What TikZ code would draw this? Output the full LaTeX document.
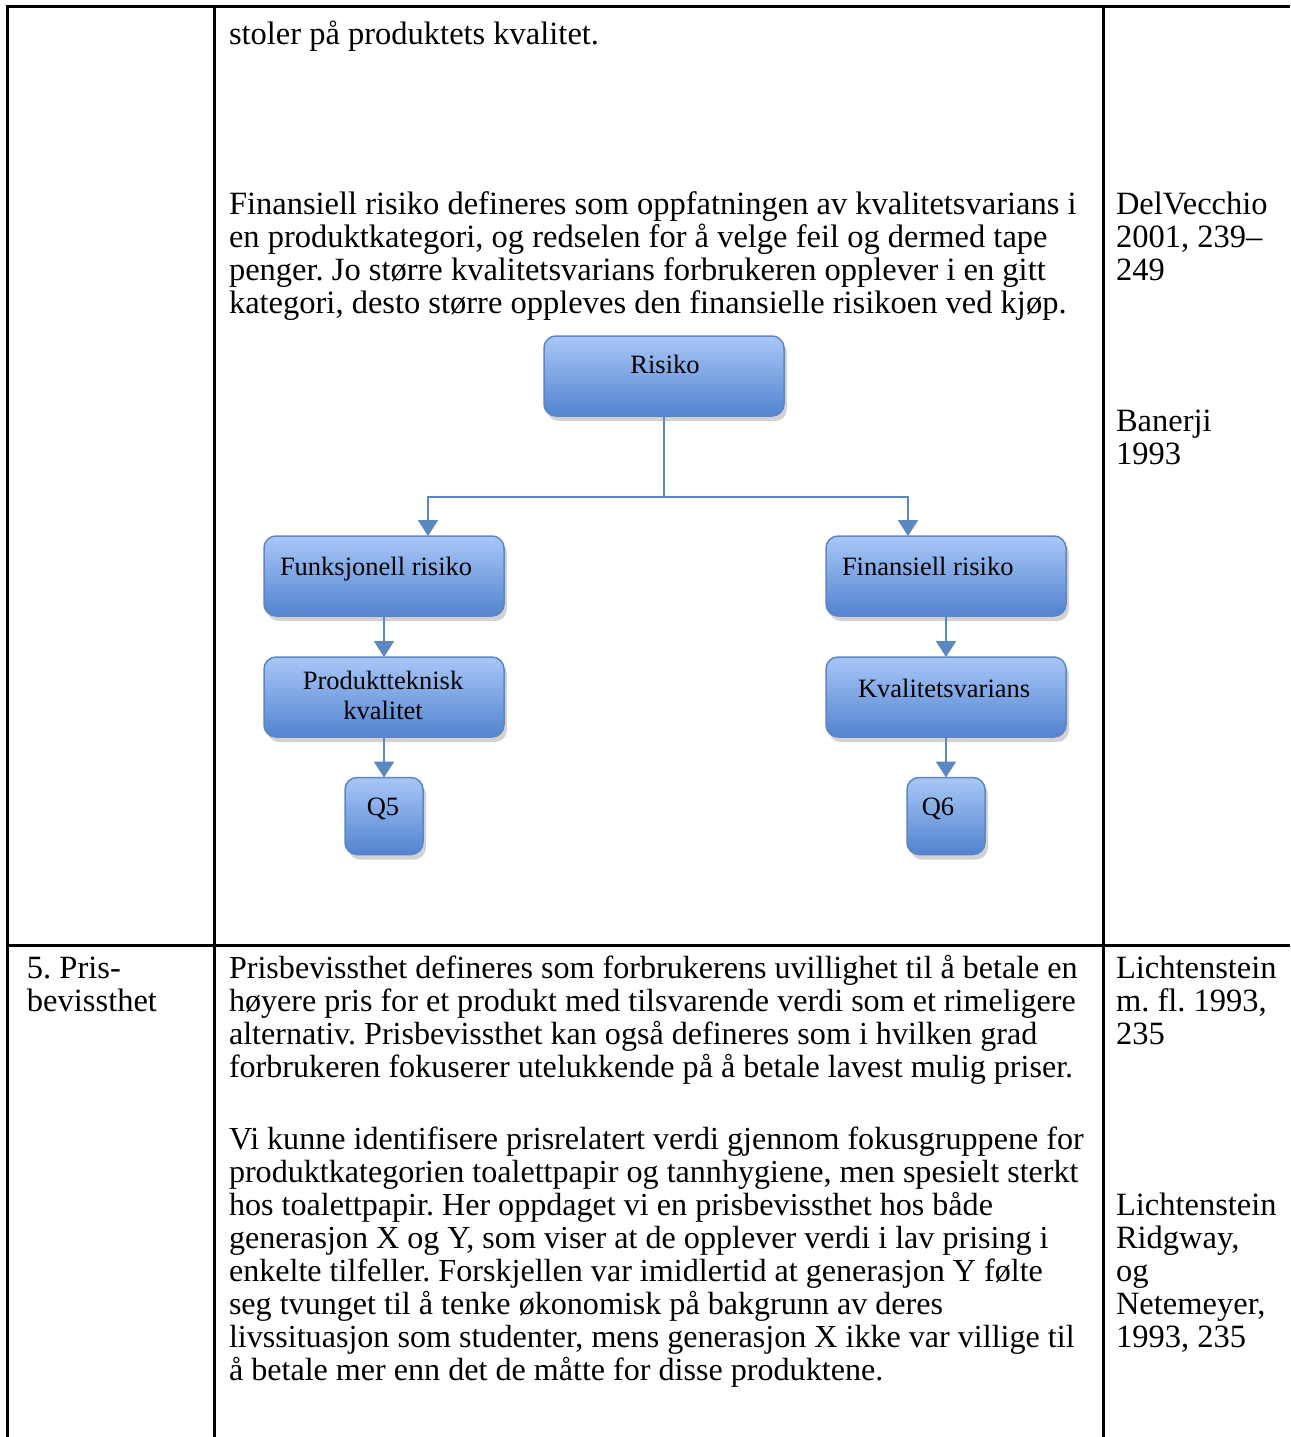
\documentclass[tikz,border=0pt]{standalone}
\usepackage{fontspec}
\setmainfont{Liberation Serif}
\usetikzlibrary{arrows.meta,shadows}
\definecolor{boxtop}{HTML}{A8C7F7}
\definecolor{boxmid}{HTML}{8CB0EC}
\definecolor{boxbot}{HTML}{5283CF}
\definecolor{boxline}{HTML}{5E86C4}
\definecolor{conn}{HTML}{5B87C2}
\tikzset{
  txt/.style={anchor=base west, inner sep=0pt, outer sep=0pt, font=\fontsize{32.5}{33}\selectfont\frenchspacing},
  txtb/.style={txt, font=\fontsize{32.1}{33}\selectfont\frenchspacing},
  btxt/.style={anchor=base, inner sep=0pt, outer sep=0pt, font=\fontsize{26.5}{30}\selectfont},
  btxtw/.style={btxt, anchor=base west},
  rule/.style={line width=3pt, black},
  fbox/.style={draw=boxline, line width=1.5pt, rounded corners=12pt,
    top color=boxtop, middle color=boxmid, bottom color=boxbot,
    drop shadow={shadow xshift=3pt, shadow yshift=-5pt, opacity=0.25, fill=black!70},
    inner sep=0pt, outer sep=0pt, minimum width=240pt, minimum height=80pt},
  qbox/.style={fbox, minimum width=78pt, minimum height=77pt},
  connl/.style={draw=conn, line width=2pt},
  arr/.style={connl, -{Triangle[width=20pt,length=16pt]}}
}
\newcommand\txtline[4]{\node[txt] (#1) at (#2,#3) {#4};}
\newcommand\txtlineb[4]{\node[txtb] (#1) at (#2,#3) {#4};}
\begin{document}
\begin{tikzpicture}[x=1pt,y=-1pt]
\useasboundingbox (0,0) rectangle (1290,1437);
\fill[white] (0,0) rectangle (1290,1437);
% table rules
\draw[rule] (7,7) -- (1290,7);
\draw[rule] (7,5.5) -- (7,1437);
\draw[rule] (214,7) -- (214,1437);
\draw[rule] (1103,7) -- (1103,1437);
\draw[rule] (7,945) -- (1290,945);
% row 1 text
\txtline{a0}{229}{45}{stoler på produktets kvalitet.}
\txtline{a1}{229}{214}{Finansiell risiko defineres som oppfatningen av kvalitetsvarians i}
\txtline{a2}{229}{247}{en produktkategori, og redselen for å velge feil og dermed tape}
\txtline{a3}{229}{280}{penger. Jo større kvalitetsvarians forbrukeren opplever i en gitt}
\txtline{a4}{229}{313}{kategori, desto større oppleves den finansielle risikoen ved kjøp.}
\txtline{r1}{1116}{214}{DelVecchio}
\txtline{r2}{1116}{247}{2001, 239–}
\txtline{r3}{1116}{280}{249}
\txtline{r4}{1116}{431}{Banerji}
\txtline{r5}{1116}{464}{1993}
% diagram
\node[fbox] (risiko) at (664,376) {};
\node[fbox] (funk) at (384,576) {};
\node[fbox] (prod) at (384,697) {};
\node[qbox] (q5) at (384,816) {};
\node[fbox] (fin) at (946,576) {};
\node[fbox] (kval) at (946,697) {};
\node[qbox] (q6) at (946,816) {};
\node[btxt] (trisiko) at (665,373) {Risiko};
\node[btxtw] (tfunk) at (280,575) {Funksjonell risiko};
\node[btxt] (tprod1) at (383,689) {Produktteknisk};
\node[btxt] (tprod2) at (383,719) {kvalitet};
\node[btxt] (tq5) at (383,815) {Q5};
\node[btxtw] (tfin) at (842,575) {Finansiell risiko};
\node[btxtw] (tkval) at (858,697) {Kvalitetsvarians};
\node[btxt] (tq6) at (938,815) {Q6};
\coordinate (j) at (664,497);
\coordinate (jl) at (428,497);
\coordinate (jr) at (908,497);
\draw[connl] (risiko.south) -- (j);
\draw[arr] (j) -- (jl) -- (jl |- funk.north);
\draw[arr] (j) -- (jr) -- (jr |- fin.north);
\draw[arr] (funk.south) -- (prod.north);
\draw[arr] (prod.south) -- (q5.north);
\draw[arr] (fin.south) -- (kval.north);
\draw[arr] (kval.south) -- (q6.north);
% row 2 text
\txtline{c1}{27}{978}{5. Pris-}
\txtline{c2}{27}{1011}{bevissthet}
\txtlineb{b1}{229}{978}{Prisbevissthet defineres som forbrukerens uvillighet til å betale en}
\txtlineb{b2}{229}{1011}{høyere pris for et produkt med tilsvarende verdi som et rimeligere}
\txtlineb{b3}{229}{1044}{alternativ. Prisbevissthet kan også defineres som i hvilken grad}
\txtlineb{b4}{229}{1077}{forbrukeren fokuserer utelukkende på å betale lavest mulig priser.}
\txtlineb{b5}{229}{1149}{Vi kunne identifisere prisrelatert verdi gjennom fokusgruppene for}
\txtlineb{b6}{229}{1182}{produktkategorien toalettpapir og tannhygiene, men spesielt sterkt}
\txtlineb{b7}{229}{1215}{hos toalettpapir. Her oppdaget vi en prisbevissthet hos både}
\txtlineb{b8}{229}{1248}{generasjon X og Y, som viser at de opplever verdi i lav prising i}
\txtlineb{b9}{229}{1281}{enkelte tilfeller. Forskjellen var imidlertid at generasjon Y følte}
\txtlineb{b10}{229}{1314}{seg tvunget til å tenke økonomisk på bakgrunn av deres}
\txtlineb{b11}{229}{1347}{livssituasjon som studenter, mens generasjon X ikke var villige til}
\txtlineb{b12}{229}{1380}{å betale mer enn det de måtte for disse produktene.}
\txtline{s1}{1116}{978}{Lichtenstein}
\txtline{s2}{1116}{1011}{m. fl. 1993,}
\txtline{s3}{1116}{1044}{235}
\txtline{s4}{1116}{1215}{Lichtenstein}
\txtline{s5}{1116}{1248}{Ridgway,}
\txtline{s6}{1116}{1281}{og}
\txtline{s7}{1116}{1314}{Netemeyer,}
\txtline{s8}{1116}{1347}{1993, 235}
\end{tikzpicture}
\end{document}
